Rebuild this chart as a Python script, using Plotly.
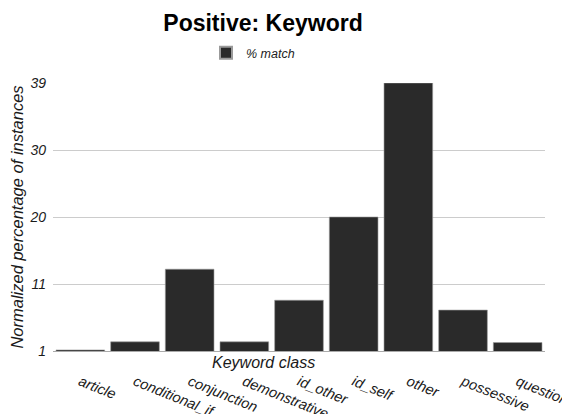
import plotly.graph_objects as go

# Keyword classes and their normalized share of positive instances
categories = ["article", "conditional_if", "conjunction", "demonstrative",
              "id_other", "id_self", "other", "possessive", "question"]
match_pct = [1.15, 2.3, 12.6, 2.3, 8.2, 20.0, 39.0, 6.8, 2.2]

# Y axis: five evenly spaced gridlines between 1 and 39, labelled rounded
y_tick_vals = [1, 10.5, 20, 29.5, 39]
y_tick_text = ["1", "11", "20", "30", "39"]

FONT = "Liberation Sans, Arial, sans-serif"

fig = go.Figure(
    go.Bar(
        x=categories,
        y=match_pct,
        base=0,
        name="<i>% match</i>",
        marker=dict(color="#2a2a2a", line=dict(color="#9a9a9a", width=0.6)),
        showlegend=True,
    )
)

fig.update_layout(
    width=562,
    height=414,
    margin=dict(l=53, r=17, t=83, b=63, autoexpand=False),
    paper_bgcolor="white",
    plot_bgcolor="white",
    bargap=0.11,
    font=dict(family=FONT, color="#222222"),
    title=dict(
        text="<b>Positive: Keyword</b>",
        font=dict(family=FONT, size=23, color="#000000"),
        x=263 / 562,
        xanchor="center",
        xref="container",
        y=1 - 23 / 414,
        yanchor="middle",
        yref="container",
    ),
    legend=dict(
        orientation="h",
        xref="container",
        yref="container",
        x=253 / 562,
        xanchor="center",
        y=1 - 53 / 414,
        yanchor="middle",
        font=dict(family=FONT, size=12.5, color="#222222"),
        itemsizing="constant",
    ),
    xaxis=dict(
        type="category",
        automargin=False,
        tickangle=22,
        tickfont=dict(family=FONT, size=14.5, color="#1a1a1a"),
        ticks="",
        ticklabelstandoff=16,
        showgrid=False,
        showline=True,
        linecolor="#aaaaaa",
        linewidth=1,
        tickprefix="<i>",
        ticksuffix="</i>",
    ),
    yaxis=dict(
        automargin=False,
        range=[1, 39],
        tickvals=y_tick_vals,
        ticktext=["<i>%s</i>" % t for t in y_tick_text],
        tickfont=dict(family=FONT, size=14, color="#1a1a1a"),
        showgrid=True,
        gridcolor="#cccccc",
        gridwidth=1,
        zeroline=False,
        ticks="",
        ticklabelstandoff=6,
        title=dict(
            text="<i>Normalized percentage of instances</i>",
            font=dict(family=FONT, size=16.5, color="#1a1a1a"),
            standoff=1,
        ),
    ),
    annotations=[
        dict(
            text="<i>Keyword class</i>",
            xref="paper",
            yref="paper",
            x=(263 - 53) / 492,
            y=0,
            xanchor="center",
            yanchor="top",
            yshift=-1,
            showarrow=False,
            font=dict(family=FONT, size=16, color="#1a1a1a"),
        )
    ],
)

fig.write_html("out.html")
